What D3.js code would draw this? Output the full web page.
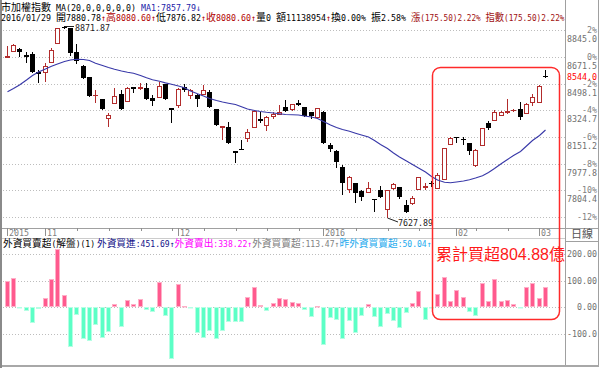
<!DOCTYPE html>
<html><head><meta charset="utf-8">
<script src="https://cdn.jsdelivr.net/npm/d3@7"></script>
<style>html,body{margin:0;padding:0;background:#fff;overflow:hidden} text{white-space:pre}</style>
</head><body><svg id="c" width="600" height="368"></svg>
<script>
// ---------------- data ----------------
const dates = [
"2015/10/23","2015/10/26","2015/10/27","2015/10/28","2015/10/29","2015/10/30",
"2015/11/02","2015/11/03","2015/11/04","2015/11/05","2015/11/06",
"2015/11/09","2015/11/10","2015/11/11","2015/11/12","2015/11/13",
"2015/11/16","2015/11/17","2015/11/18","2015/11/19","2015/11/20",
"2015/11/23","2015/11/24","2015/11/25","2015/11/26","2015/11/27","2015/11/30",
"2015/12/01","2015/12/02","2015/12/03","2015/12/04",
"2015/12/07","2015/12/08","2015/12/09","2015/12/10","2015/12/11",
"2015/12/14","2015/12/15","2015/12/16","2015/12/17","2015/12/18",
"2015/12/21","2015/12/22","2015/12/23","2015/12/24","2015/12/25",
"2015/12/28","2015/12/29","2015/12/30","2015/12/31",
"2016/01/04","2016/01/05","2016/01/06","2016/01/07","2016/01/08",
"2016/01/11","2016/01/12","2016/01/13","2016/01/14","2016/01/15",
"2016/01/18","2016/01/19","2016/01/20","2016/01/21","2016/01/22",
"2016/01/25","2016/01/26","2016/01/27","2016/01/28","2016/01/29","2016/01/30",
"2016/02/01","2016/02/02","2016/02/03",
"2016/02/15","2016/02/16","2016/02/17","2016/02/18","2016/02/19",
"2016/02/22","2016/02/23","2016/02/24","2016/02/25","2016/02/26",
"2016/03/01","2016/03/02"];

const open = [8671,8710,8723,8684,8689,8576,8572,8641,8760,8866,
8858,8702,8615,8540,8422,8399,8273,8371,8431,8386,
8475,8470,8472,8407,8410,8494,8338,8360,8479,8425,
8425,8431,8444,8332,8216,8215,8061,8075,8143,8215,
8269,8230,8290,8301,8345,8332,8375,8345,8312,8280,
8316,8100,8061,7959,7812,7851,7801,7797,7749,7808,
7682,7819,7827,7710,7725,7812,7827,7855,7822,7880.78,
8106,8152,8140,8111,7970,8098,8241,8262,8295,8314,
8325,8334,8306,8381,8381,8546];

const high = [8743,8756,8728,8706,8702,8587,8630,8728,8862,8871.87,
8862,8754,8617,8543,8457,8400,8310,8468,8457,8479,
8479,8501,8501,8425,8511,8494,8338,8468,8496,8464,
8431,8490,8457,8335,8225,8251,8061,8132,8202,8325,
8316,8290,8312,8360,8392,8366,8392,8349,8312,8338,
8320,8111,8067,7970,7899,7851,7808,7862,7751,7834,
7808,7855,7830,7742,7769,7894,7851,7866,7920,8080.60,
8152,8154,8154,8111,8072,8210,8256,8327,8323,8397,
8332,8381,8375,8431,8487,8587];

const low = [8663,8708,8669,8630,8566,8500,8511,8637,8758,8855,
8678,8624,8529,8415,8375,8327,8219,8366,8327,8381,
8436,8457,8397,8355,8403,8392,8241,8338,8446,8399,
8349,8428,8338,8228,8132,8111,7981,8067,8121,8215,
8241,8191,8267,8295,8323,8323,8355,8288,8267,8273,
8111,8056,7948,7775,7786,7725,7738,7786,7663,7754,
7627.89,7808,7750,7667,7710,7808,7808,7829,7818,7876.82,
8100,8111,8100,8035,7955,8096,8197,8262,8288,8301,
8316,8262,8301,8355,8381,8544];

const close = [8676,8749,8706,8673,8572,8561,8615,8717,8858,8860,
8696,8645,8537,8418,8427,8332,8295,8418,8332,8472,
8464,8474,8399,8388,8485,8399,8327,8464,8457,8457,
8399,8457,8349,8230,8222,8115,8046,8071,8182,8321,
8256,8280,8301,8316,8323,8364,8360,8290,8288,8338,
8111,8074,7991,7851,7894,7790,7764,7819,7746,7764,
7808,7847,7760,7667,7758,7890,7832,7844,7905.10,8080.60,
8143,8150,8138,8063,8067,8208,8212,8312,8316,8318,
8328,8280,8366,8410,8485,8544];

const ma20 = [8446.1,8466.9,8489.6,8522.1,8551.3,8574.1,8593.6,8611.1,8626.0,8642.3,
8652.0,8656.6,8655.3,8648.8,8631.2,8616.3,8603.3,8591.6,8580.6,8572.1,
8565.6,8551.3,8536.4,8523.4,8513.7,8503.3,8494.2,8483.1,8471.4,8450.7,
8432.5,8418.2,8401.9,8388.9,8379.2,8371.4,8363.0,8348.0,8333.7,8324.0,
8317.5,8312.3,8307.8,8302.6,8298.0,8296.7,8294.8,8288.3,8281.8,8272.0,
8252.5,8229.8,8213.6,8200.6,8188.9,8176.5,8164.9,8151.9,8129.1,8103.1,
8077.2,8047.9,8021.9,7996.0,7973.2,7950.5,7924.5,7895.3,7872.5,7857.79,
7854.4,7859.6,7866.1,7874.5,7885.5,7899.8,7921.3,7947.3,7979.7,8005.7,
8031.7,8057.7,8093.4,8129.1,8161.6,8197.3];

const foreignNet = [100,111,-4,-14,-57,-5,37,105,218,46,
-147,-29,-119,-125,-66,-116,-94,12,-72,27,
12,30,-11,-17,96,-32,-194,86,5,-2,
-95,-116,-87,-120,-87,-54,-54,-54,40,75,
9,-15,15,37,30,19,15,-10,-35,5,
-139,-41,-47,-119,-50,-95,-31,12,-35,-72,
-26,-50,-76,-22,17,61,-47,-2,50.04,113.47,
25,67,40,-16,-31,90,24,105,25,27,
12,-4,75,92,34,76.37];

const basePrice = 8671.54;
const pctValues = [2,0,-2,-4,-6,-8,-10,-12];
const pctLabels = ["2%","0%","-2%","-4%","-6%","-8%","-10%","-12%"];
const priceLabels = ["8845.0","8671.5","8498.1","8324.7","8151.2","7977.8","7804.4"];
const netTicks = [200,100,0,-100];
const netLabels = ["200.00","100.00","0.00","-100.0"];
const boxStart = 68;   // first day of the highlighted period

// header segments: [text, colour, squeeze]
const header1 = [["市加權指數 MA(20,0,0,0,0,0) ","#000"],["MA1:7857.79↓","#1c1ca8"]];
const header2 = [["2016/01/29 開7880.78","#000"],["↑","#b00000"],["高8080.60↑","#b00000"],
  ["低7876.82","#000"],["↑","#b00000"],["收8080.60↑","#b00000"],["量0 額11138954","#000"],
  ["↑","#b00000"],["換0.00% 振2.58% ","#000"],["漲(175.50)2.22% ","#a01010",0.93],
  ["指數(175.50)2.22%","#a01010",0.93]];
const header3 = [["外資買賣超(解盤)(1)","#000",3],["外資買進:451.69↑","#101088",97],
  ["外資賣出:338.22↑","#ff00ff",174.6],["外資買賣超:113.47↑","#808080",252.2],
  ["昨外資買賣超:50.04↑","#22aaee",339.5]];

// ---------------- drawing ----------------
const svg = d3.select("#c");
const CJKF = "'Noto Sans CJK TC',sans-serif";
const LATF = "'DejaVu Sans Mono',monospace";
svg.append("rect").attr("width",600).attr("height",368).attr("fill","#fff");

const isFull = ch => ch.codePointAt(0) >= 0x2E80;
function monoW(s){let w=0;for(const ch of s){w+=isFull(ch)?10:5;}return w;}
// monospace-like text: half-width 5px, full-width 10px (times scale); squeeze compresses spacing
function monoText(g,x,y,s,color,anchorEnd,scale,squeeze){
  const k=scale||1, q=squeeze||1, w=monoW(s)*k*q;
  const t=g.append("text").attr("x",anchorEnd?x-w:x).attr("y",y).attr("fill",color)
    .attr("xml:space","preserve");
  if(q!==1) t.attr("textLength",w).attr("lengthAdjust","spacingAndGlyphs");
  const runs=[]; let cur="", curF=null;
  for(const ch of s){const f=isFull(ch); if(cur&&f!==curF){runs.push([cur,curF]);cur="";} cur+=ch; curF=f;}
  if(cur) runs.push([cur,curF]);
  runs.forEach(([r,f])=>t.append("tspan").attr("font-family",f?CJKF:LATF)
    .attr("font-size",(f?10:8.3)*k).text(r));
  return w;
}

const x = d3.scaleBand().domain(dates).range([3.5,548]).paddingInner(0.25).paddingOuter(0.125);
const px = d => Math.round(x(d)+x.bandwidth()/2);
const yTop = d3.scaleLinear().domain([basePrice*1.02, basePrice*0.88]).range([30.3,217.2]);
const yNet = d3.scaleLinear().domain([200,-100]).range([254,334.1]);

// grid
const gGrid = svg.append("g").attr("stroke","#bdbdbd").attr("stroke-dasharray","1,2");
pctValues.forEach(p=>{const gy=Math.round(yTop(basePrice*(1+p/100)))+0.5;
  gGrid.append("line").attr("x1",3).attr("x2",565).attr("y1",gy).attr("y2",gy);});
netTicks.forEach(v=>{const gy=Math.round(yNet(v))+0.5;
  gGrid.append("line").attr("x1",3).attr("x2",565).attr("y1",gy).attr("y2",gy);});

// frame lines
const gF = svg.append("g");
gF.append("line").attr("x1",2).attr("x2",598).attr("y1",228.5).attr("y2",228.5).attr("stroke","#a0a0a0");
gF.append("line").attr("x1",2).attr("x2",565).attr("y1",238.5).attr("y2",238.5).attr("stroke","#cccccc");
gF.append("line").attr("x1",565).attr("x2",598).attr("y1",241.5).attr("y2",241.5).attr("stroke","#a0a0a0");
gF.append("line").attr("x1",565.5).attr("x2",565.5).attr("y1",0).attr("y2",366).attr("stroke","#a0a0a0");
gF.append("line").attr("x1",598.5).attr("x2",598.5).attr("y1",0).attr("y2",366).attr("stroke","#a0a0a0");
gF.append("rect").attr("x",0).attr("y",365).attr("width",599).attr("height",2).attr("fill","#a8a8a8");
gF.append("rect").attr("x",0).attr("y",0).attr("width",2).attr("height",368).attr("fill","#8a8a8a");

// x axis ticks & labels
const gX = svg.append("g");
const parse = d3.timeParse("%Y/%m/%d");
dates.forEach((d,i)=>{
  const dt=parse(d), prev=i>0?parse(dates[i-1]):null;
  const p=px(d);
  const newMonth = !prev || dt.getMonth()!==prev.getMonth();
  const newWeek = prev && d3.timeMonday.floor(dt).getTime()!==d3.timeMonday.floor(prev).getTime();
  if(newMonth){
    gX.append("line").attr("x1",p+0.5).attr("x2",p+0.5).attr("y1",228).attr("y2",236).attr("stroke","#909090");
    const lab = (i===0||dt.getMonth()===0)? d3.timeFormat("%Y")(dt) : d3.timeFormat("%m")(dt);
    monoText(gX,p+2,236,lab,"#808080");
  } else if(newWeek){
    gX.append("line").attr("x1",p+1.5).attr("x2",p+1.5).attr("y1",228).attr("y2",231).attr("stroke","#909090");
  }
});
svg.append("text").attr("x",582).attr("y",238).attr("text-anchor","middle").attr("font-size",11)
  .attr("font-family",CJKF).attr("fill","#555").text("日線");

// right axis labels
const gR = svg.append("g");
pctValues.forEach((p,k)=>{
  const gy=Math.round(yTop(basePrice*(1+p/100)));
  monoText(gR,597,gy+2.5,pctLabels[k],"#808080",true);
  if(k<priceLabels.length) monoText(gR,597,gy+11.5,priceLabels[k],"#707070",true);
});
const last = close.length-1;
monoText(gR,597,yTop(close[last])+3,close[last].toFixed(1),"#ff0000",true);
netTicks.forEach((v,k)=>{monoText(gR,597,Math.round(yNet(v))+3,netLabels[k],"#707070",true);});

// candles
const gC = svg.append("g");
const UP="#b22c2c";
dates.forEach((d,i)=>{
  const p=px(d), o=open[i], c=close[i];
  const yH=Math.round(yTop(high[i])), yL=Math.round(yTop(low[i]));
  const yO=Math.round(yTop(o)), yCl=Math.round(yTop(c));
  if(c>=o){
    const top=yCl, bot=yO;
    if(bot-top<1){
      gC.append("line").attr("x1",p+0.5).attr("x2",p+0.5).attr("y1",yH).attr("y2",yL).attr("stroke",UP);
      gC.append("line").attr("x1",p-2).attr("x2",p+3).attr("y1",top+0.5).attr("y2",top+0.5).attr("stroke",UP);
    } else {
      if(yH<top) gC.append("line").attr("x1",p+0.5).attr("x2",p+0.5).attr("y1",yH).attr("y2",top).attr("stroke",UP);
      if(yL>bot+1) gC.append("line").attr("x1",p+0.5).attr("x2",p+0.5).attr("y1",bot+1).attr("y2",yL).attr("stroke",UP);
      gC.append("rect").attr("x",p-1.5).attr("y",top+0.5).attr("width",4).attr("height",bot-top)
        .attr("fill","#fff").attr("stroke",UP);
    }
  } else {
    const top=yO, bot=yCl;
    gC.append("line").attr("x1",p+0.5).attr("x2",p+0.5).attr("y1",yH).attr("y2",Math.max(yL,bot+1)).attr("stroke","#000");
    gC.append("rect").attr("x",p-2).attr("y",top).attr("width",5).attr("height",Math.max(1,bot-top)).attr("fill","#000");
  }
});

// MA line
svg.append("path").datum(ma20)
  .attr("d",d3.line().x((v,i)=>px(dates[i])+0.5).y(v=>yTop(v)))
  .attr("fill","none").attr("stroke","#3838a8").attr("stroke-width",1.1);

// high / low markers
const iHi = d3.maxIndex(high), iLo = d3.minIndex(low);
const gM = svg.append("g");
{ const p=px(dates[iHi]), yy=Math.round(yTop(high[iHi]))+0.5;
  gM.append("path").attr("d",`M${p+0.5},${yy}H${p+10}`).attr("stroke","#222").attr("fill","none");
  monoText(gM,p+11,yy+4,high[iHi].toFixed(2),"#222"); }
{ const p=px(dates[iLo]), yy=Math.round(yTop(low[iLo]));
  gM.append("path").attr("d",`M${p+0.5},${yy}L${p+11},${yy+4}`).attr("stroke","#222").attr("fill","none");
  monoText(gM,p+11,yy+8,low[iLo].toFixed(2),"#222"); }

// foreign net bars
const gB = svg.append("g");
const y0 = Math.round(yNet(0));
dates.forEach((d,i)=>{
  const p=px(d), v=foreignNet[i], yv=Math.round(yNet(v));
  const pos = v>=0;
  const top = pos? yv : y0, h = Math.max(1, Math.abs(yv-y0));
  gB.append("rect").attr("x",p-1.5).attr("y",top+0.5).attr("width",4).attr("height",Math.max(0.5,h-1))
    .attr("fill",pos?"#ff5a8e":"#5cffc6").attr("stroke",pos?"#ffb0c8":"#b5ffe4").attr("stroke-width",1);
});

// header texts
const gT = svg.append("g");
let xx=1; header1.forEach(([s,c,q])=>{xx+=monoText(gT,xx,10.5,s,c,false,1,q);});
xx=1; header2.forEach(([s,c,q])=>{xx+=monoText(gT,xx,21,s,c,false,1,q);});
header3.forEach(([s,c,x0])=>{monoText(gT,x0,247,s,c,false,0.97);});

// highlight box
const bx0 = px(dates[boxStart])-5;
svg.append("rect").attr("x",bx0+0.5).attr("y",67.5).attr("width",559.5-bx0-0.5).attr("height",252)
  .attr("rx",8).attr("fill","none").attr("stroke","#ff2a2a").attr("stroke-width",1.5);
const cum = d3.sum(foreignNet.slice(boxStart));
svg.append("text").attr("x",436).attr("y",259.5).attr("font-size",16)
  .attr("font-family","'Liberation Sans','Noto Sans CJK TC',sans-serif").attr("fill","#ff1a1a")
  .text("累計買超"+cum.toFixed(2)+"億");
</script></body></html>
